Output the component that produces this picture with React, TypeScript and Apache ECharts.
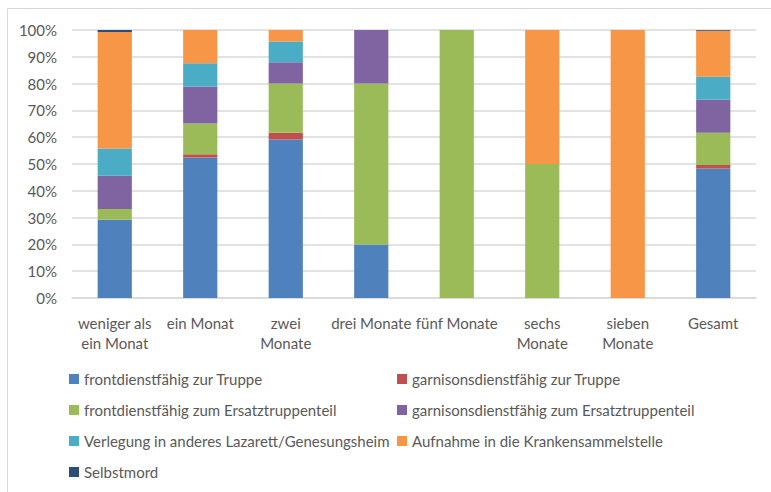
import React, { useEffect, useRef } from "react";
import * as echarts from "echarts";

const categories = [
  "weniger als\nein Monat",
  "ein Monat",
  "zwei\nMonate",
  "drei Monate",
  "fünf Monate",
  "sechs\nMonate",
  "sieben\nMonate",
  "Gesamt",
];

const seriesNames = [
  "frontdienstfähig zur Truppe",
  "garnisonsdienstfähig zur Truppe",
  "frontdienstfähig zum Ersatztruppenteil",
  "garnisonsdienstfähig zum Ersatztruppenteil",
  "Verlegung in anderes Lazarett/Genesungsheim",
  "Aufnahme in die Krankensammelstelle",
  "Selbstmord",
];

const frontTruppe = [29.2, 52.4, 59.1, 20, 0, 0, 0, 48.3];
const garnisonTruppe = [0, 1.2, 2.6, 0, 0, 0, 0, 1.3];
const frontErsatz = [4.0, 11.5, 18.3, 60, 100, 50, 0, 12.1];
const garnisonErsatz = [12.4, 13.8, 8.0, 20, 0, 0, 0, 12.3];
const verlegung = [10.2, 8.7, 7.7, 0, 0, 0, 0, 8.6];
const aufnahme = [43.5, 12.4, 4.3, 0, 0, 50, 100, 17.1];
const selbstmord = [0.7, 0, 0, 0, 0, 0, 0, 0.3];

const seriesValues = [
  frontTruppe,
  garnisonTruppe,
  frontErsatz,
  garnisonErsatz,
  verlegung,
  aufnahme,
  selbstmord,
];

const colors = ["#4F81BD", "#C0504D", "#9BBB59", "#8064A2", "#4BACC6", "#F79646", "#2C4D75"];

const yTicks = [0, 10, 20, 30, 40, 50, 60, 70, 80, 90, 100];

const FONT = "Lato, 'Noto Sans', sans-serif";
const TEXT = "#595959";

export default function App() {
  const ref = useRef<HTMLDivElement>(null);
  useEffect(() => {
    document.body.style.margin = "0";
    const chart = echarts.init(ref.current!, null, { renderer: "svg" });
    const legendText = { color: TEXT, fontSize: 15, fontFamily: FONT, lineHeight: 16 };
    chart.setOption({
      animation: false,
      color: colors,
      textStyle: { fontFamily: FONT },
      graphic: [
        {
          type: "rect",
          shape: { x: 7.5, y: 8.5, width: 900, height: 600 },
          style: { fill: "none", stroke: "#d9d9d9", lineWidth: 1 },
          silent: true,
        },
      ],
      grid: { left: 72, right: 15, top: 30, bottom: 194 },
      legend: [
        {
          left: 69,
          top: 371,
          orient: "vertical",
          padding: 0,
          itemWidth: 10,
          itemHeight: 10,
          itemGap: 15,
          icon: "rect",
          textStyle: legendText,
          data: [seriesNames[0], seriesNames[2], seriesNames[4], seriesNames[6]],
        },
        {
          left: 397,
          top: 371,
          orient: "vertical",
          padding: 0,
          itemWidth: 10,
          itemHeight: 10,
          itemGap: 15,
          icon: "rect",
          textStyle: legendText,
          data: [seriesNames[1], seriesNames[3], seriesNames[5]],
        },
      ],
      xAxis: {
        type: "category",
        data: categories,
        axisLine: { show: true, lineStyle: { color: "#d9d9d9", width: 1.5 } },
        axisTick: { show: false },
        axisLabel: {
          color: TEXT,
          fontSize: 15,
          fontFamily: FONT,
          lineHeight: 20,
          margin: 15,
          interval: 0,
        },
      },
      yAxis: {
        type: "value",
        min: yTicks[0],
        max: yTicks[yTicks.length - 1],
        interval: 10,
        axisLine: { show: false },
        axisTick: { show: false },
        splitLine: { lineStyle: { color: "#d9d9d9", width: 1.5 } },
        axisLabel: {
          color: TEXT,
          fontSize: 15,
          fontFamily: FONT,
          margin: 15,
          formatter: "{value}%",
        },
      },
      series: seriesNames.map((name, i) => ({
        name,
        type: "bar",
        stack: "total",
        barWidth: "40%",
        data: seriesValues[i],
        itemStyle: { color: colors[i] },
      })),
    });
    return () => chart.dispose();
  }, []);
  return <div ref={ref} style={{ width: 771, height: 492 }} />;
}
